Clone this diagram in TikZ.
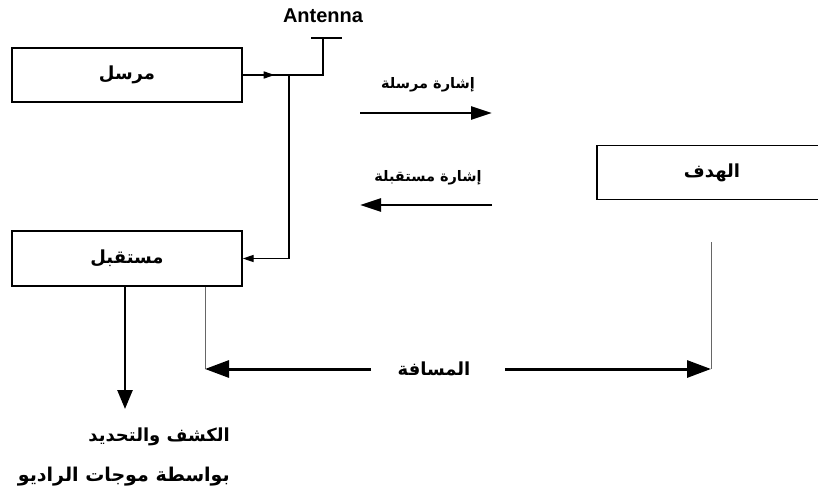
\documentclass[tikz,border=0pt]{standalone}
\usepackage{fontspec}
\setmainfont{Liberation Sans}
\newfontfamily\arabicfont[Script=Arabic]{DejaVu Sans}
\TeXXeTstate=1
\usetikzlibrary{positioning, arrows.meta, calc}

\newcommand{\artext}[1]{{\arabicfont\bfseries\beginR #1\endR}}

\tikzset{
  block/.style={draw, line width=1.4pt, minimum width=230pt, minimum height=54pt, inner sep=0pt,
    font=\fontsize{18}{20}\selectfont},
  wire/.style={line width=1.4pt},
  smallhead/.style={-{Triangle[length=11pt,width=7pt]}},
  sigarrow/.style={line width=2.6pt, -{Triangle[length=21pt,width=13pt]}},
  bigarrow/.style={line width=3pt, -{Triangle[length=24pt,width=17pt]}},
  dimline/.style={line width=0.8pt, draw=black!60},
  label/.style={inner sep=0pt, font=\fontsize{18}{20}\selectfont},
  siglabel/.style={inner sep=0pt, font=\fontsize{14.5}{16}\selectfont},
}

\begin{document}
\begin{tikzpicture}[x=1pt,y=-1pt]
\path[use as bounding box] (0,0) rectangle (818,487);
\clip (0,0) rectangle (818,487);

% blocks
\node[block] (tx) at (127,75) {\artext{مرسل}};
\node[block, minimum height=55pt] (rx) at (127,258.5) {\artext{مستقبل}};
\node[block] (target) at (712,172.5) {\artext{الهدف}};

% antenna
\coordinate (jn) at (289,75);
\coordinate (ant) at (323,38);
\node[inner sep=0pt, font=\bfseries\fontsize{20}{22}\selectfont] (anttext) at (323,16) {Antenna};
\draw[wire] (tx.east) -- (jn) -| (ant);
\draw[wire, smallhead] (tx.east) -- ++(32,0);
\draw[line width=2.6pt] ($(ant)+(-12,0)$) -- ($(ant)+(19,0)$);
\draw[wire, smallhead] (jn) |- (rx.east);

% signals
\coordinate (sendA) at (360,113);
\coordinate (sendB) at (492,113);
\coordinate (recvA) at (492,205);
\coordinate (recvB) at (360,205);
\draw[sigarrow] (sendA) -- (sendB);
\draw[sigarrow] (recvA) -- (recvB);
\node[siglabel] (sendtext) at (428,85) {\artext{إشارة مرسلة}};
\node[siglabel] (recvtext) at (428,178) {\artext{إشارة مستقبلة}};

% detection output
\coordinate (detect) at (125,409);
\draw[line width=2.6pt, -{Triangle[length=19pt,width=15pt]}] (rx.south -| detect) -- (detect);
\node[label, anchor=east] (det1) at (230,437) {\artext{الكشف والتحديد}};
\node[label, anchor=east, font=\fontsize{19}{21}\selectfont] (det2) at (230,477) {\artext{بواسطة موجات الراديو}};

% distance
\coordinate (dl) at (205,369);
\coordinate (dr) at (711,369);
\draw[dimline] (rx.south -| dl) -- (dl);
\draw[dimline] (711,242) -- (dr);
\node[label] (dist) at (434,369) {\artext{المسافة}};
\draw[bigarrow] (371,369) -- (dl);
\draw[bigarrow] (505,369) -- (dr);
\end{tikzpicture}
\end{document}
